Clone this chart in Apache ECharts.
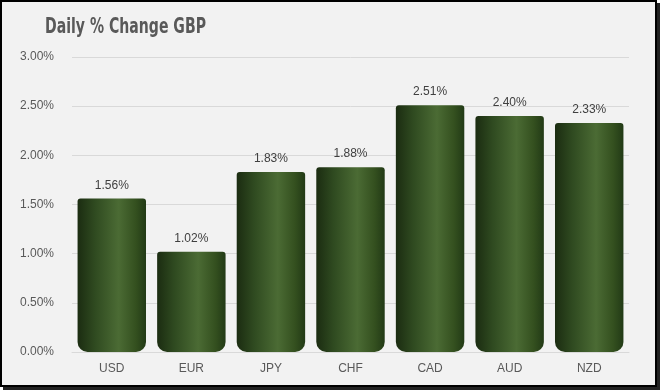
<!DOCTYPE html>
<html><head><meta charset="utf-8">
<script src="https://cdn.jsdelivr.net/npm/echarts@6/dist/echarts.min.js"></script>
<style>
html,body{margin:0;padding:0;background:#fff;}
#wrap{position:absolute;left:0;top:0;width:653px;height:383px;border:2px solid #000;box-shadow:3px 3px 0 #222;background:#f2f2f2;}
#c{width:653px;height:383px;}
</style></head><body>
<div id="wrap"><div id="c"></div></div>
<script>
const categories = ['USD','EUR','JPY','CHF','CAD','AUD','NZD'];
const values = [1.56, 1.02, 1.83, 1.88, 2.51, 2.40, 2.33];
const yTicks = [0, 0.5, 1, 1.5, 2, 2.5, 3];
const titleText = 'Daily % Change GBP';

const chart = echarts.init(document.getElementById('c'));
const grad = new echarts.graphic.LinearGradient(0,0,1,0,[
  {offset:0,color:'#1b2c11'},
  {offset:0.25,color:'#2f4a20'},
  {offset:0.6,color:'#4b6b34'},
  {offset:0.85,color:'#34501f'},
  {offset:1,color:'#223a16'}
]);
const lblFont = 'Liberation Sans, Arial, sans-serif';
chart.setOption({
  backgroundColor:'#f2f2f2',
  animation:false,
  graphic:[{type:'text',left:43,top:14,scaleX:0.64,
    style:{text:titleText,fill:'#595959',font:'bold 22px "DejaVu Sans"'}}],
  grid:{left:70,right:26,top:55,bottom:33},
  xAxis:{type:'category',data:categories,
    axisLine:{lineStyle:{color:'#d9d9d9'}},axisTick:{show:false},
    axisLabel:{color:'#595959',fontSize:12,margin:11,fontFamily:lblFont}},
  yAxis:{type:'value',min:yTicks[0],max:yTicks[yTicks.length-1],interval:0.5,
    axisLabel:{color:'#595959',fontSize:12,margin:18,fontFamily:lblFont,formatter:v=>v.toFixed(2)+'%'},
    splitLine:{lineStyle:{color:'#d9d9d9'}},axisLine:{show:false},axisTick:{show:false}},
  series:[{type:'bar',data:values,barWidth:'86%',
    itemStyle:{color:grad,borderRadius:[3,3,10,10]},
    label:{show:true,position:'top',distance:7,color:'#404040',fontSize:12,fontFamily:lblFont,formatter:p=>p.value.toFixed(2)+'%'}
  }]
});
</script></body></html>
